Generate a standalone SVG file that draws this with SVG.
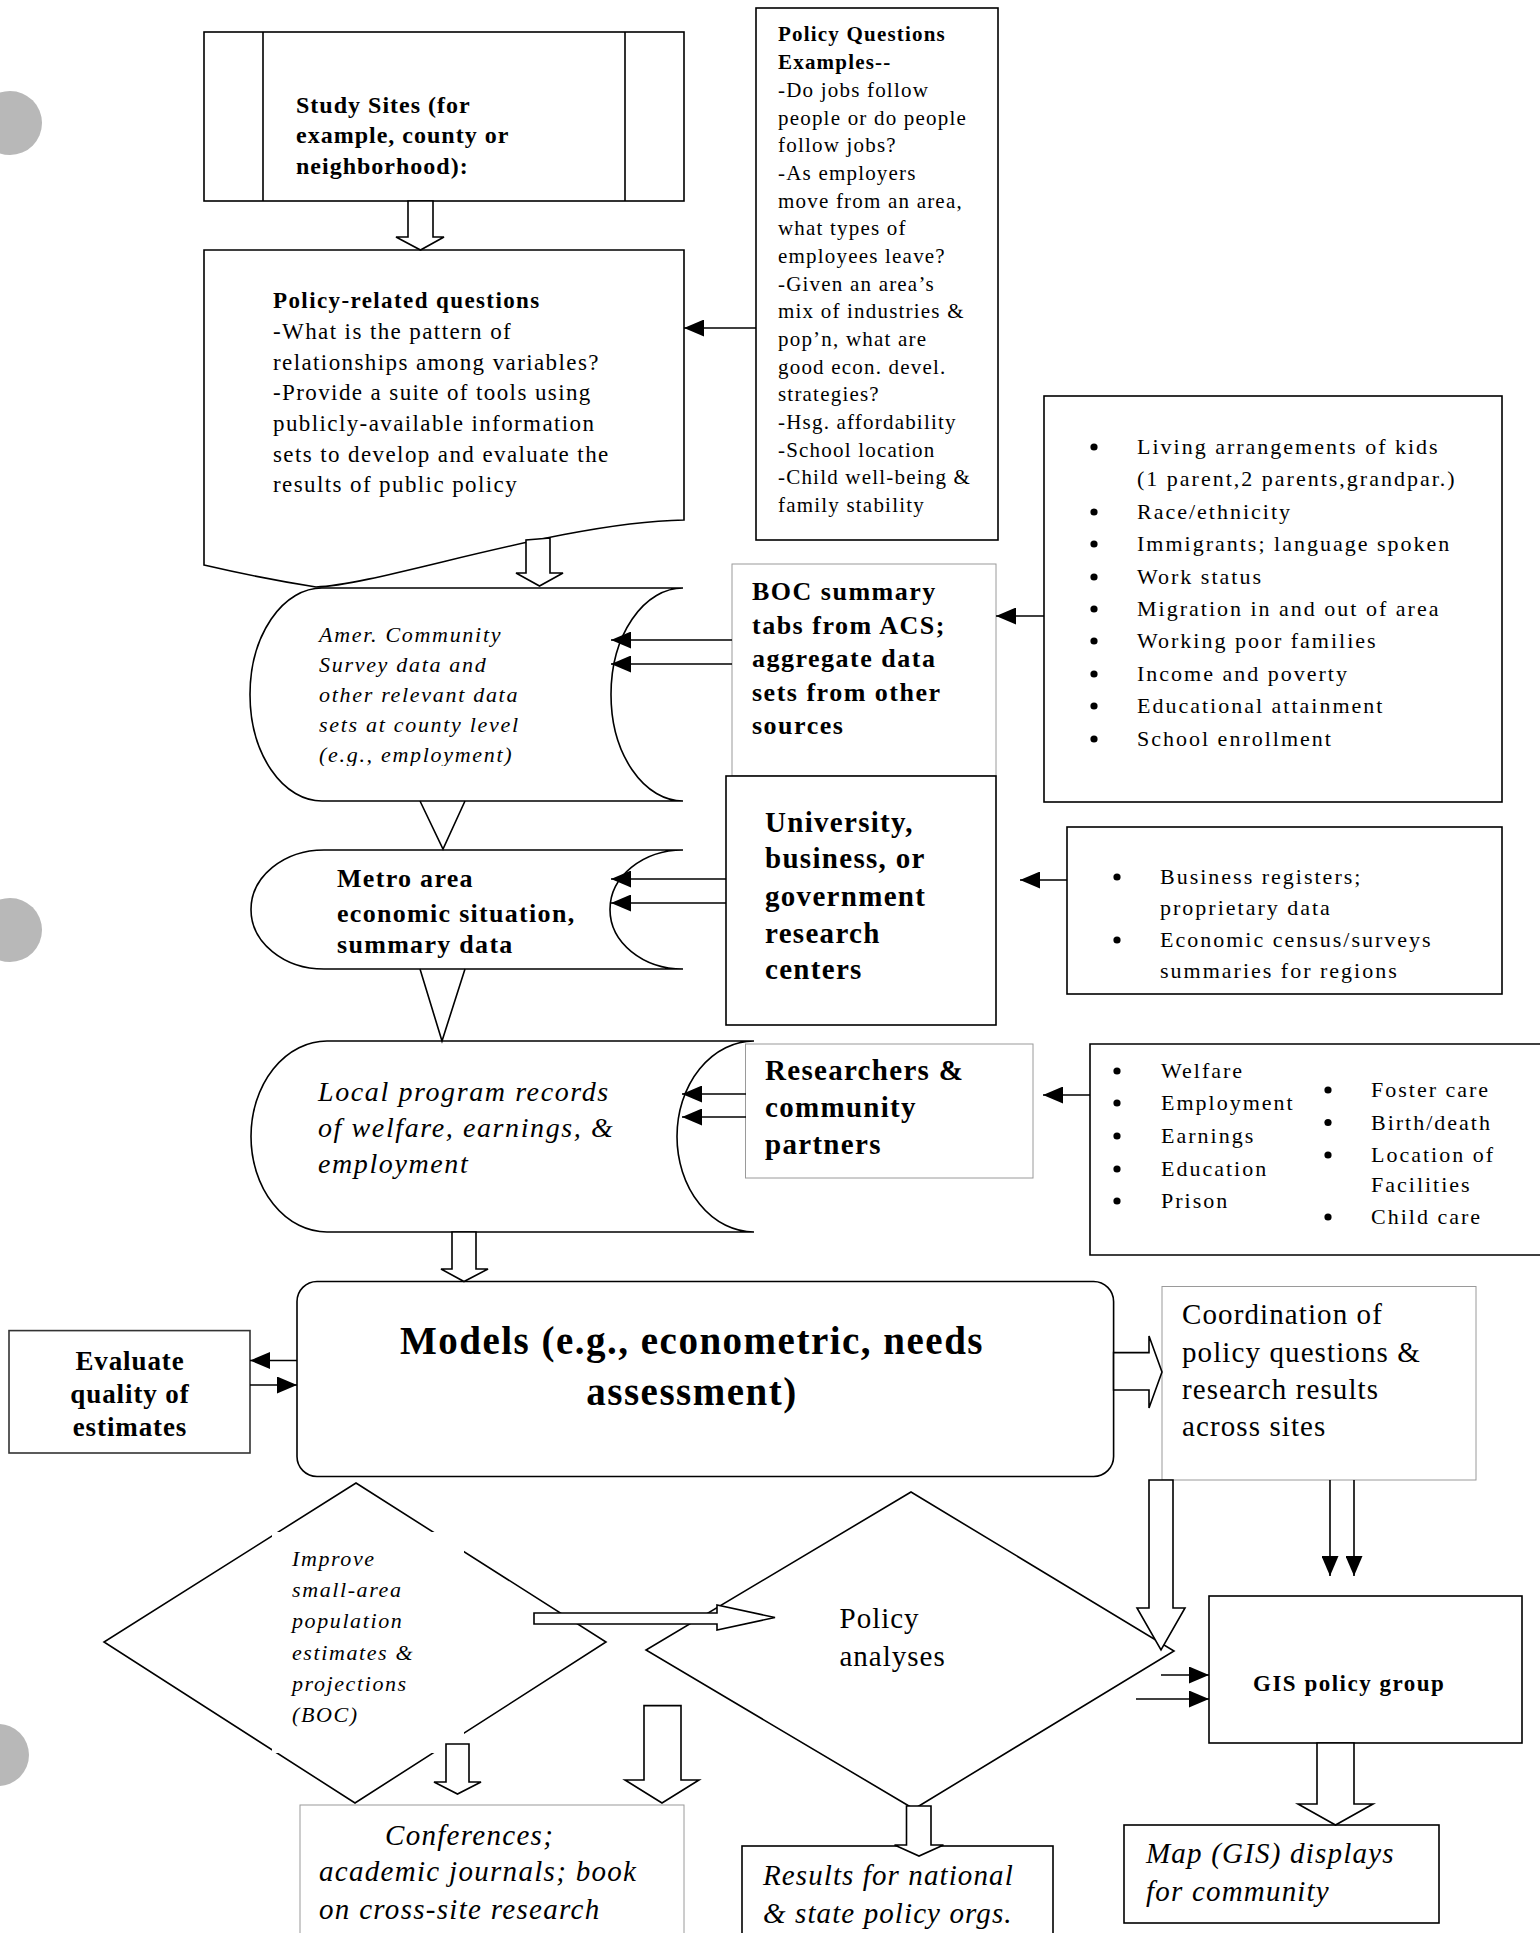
<svg xmlns="http://www.w3.org/2000/svg" width="1540" height="1933" viewBox="0 0 1540 1933">
<style>
.box{fill:#fff;stroke:#000;stroke-width:1.6}
.lbox{fill:#fff;stroke:#9a9a9a;stroke-width:1}
.conn{fill:none;stroke:#000;stroke-width:1.6}
.hol{fill:#fff;stroke:#000;stroke-width:1.6}
.hole{fill:#b8b8b8}
.bul{fill:#000}
text{font-family:"Liberation Serif","Times New Roman",serif;fill:#000}
.t24b{font-size:24px;font-weight:bold;letter-spacing:1px}
.t23{font-size:23px;letter-spacing:1.4px}
.t23b{font-size:23px;font-weight:bold;letter-spacing:1.4px}
.t21{font-size:21px;letter-spacing:1.2px}
.t21b{font-size:21px;font-weight:bold;letter-spacing:1.2px}
.lst{font-size:22px;letter-spacing:2px}
.t26b{font-size:26px;font-weight:bold;letter-spacing:1.5px}
.t29b{font-size:29px;font-weight:bold;letter-spacing:1.3px}
.t22i{font-size:22px;font-style:italic;letter-spacing:1.7px}
.t28i{font-size:28px;font-style:italic;letter-spacing:1.6px}
.t29{font-size:29px;letter-spacing:1.1px}
.t29i{font-size:29px;font-style:italic;letter-spacing:1.2px}
.t39b{font-size:39px;font-weight:bold;letter-spacing:1.5px}
</style>
<defs>
<marker id="ah" markerUnits="userSpaceOnUse" markerWidth="20" markerHeight="17" refX="20" refY="8.5" orient="auto"><path d="M0,0L20,8.5L0,17z" fill="#000"/></marker>
<clipPath id="acsclip"><rect x="240" y="588" width="380" height="178"/></clipPath>
</defs>
<rect width="1540" height="1933" fill="#fff"/>
<g id="punch-holes">
<circle class="hole" cx="10" cy="123" r="32"/>
<circle class="hole" cx="10" cy="930" r="32"/>
<circle class="hole" cx="-2" cy="1755" r="31"/>
</g>
<g id="study-sites">
<rect class="box" x="204" y="32" width="480" height="169"/>
<path class="conn" d="M263,32V201M625,32V201"/>
<text class="t24b"><tspan x="296" y="113">Study Sites (for</tspan><tspan x="296" y="143">example, county or</tspan><tspan x="296" y="174">neighborhood):</tspan></text>
</g>
<g id="policy-questions-examples">
<rect class="box" x="756" y="8" width="242" height="532"/>
<text class="t21b"><tspan x="778" y="41">Policy Questions</tspan><tspan x="778" y="68.5">Examples--</tspan></text>
<text class="t21"><tspan x="778" y="97">-Do jobs follow</tspan><tspan x="778" y="124.7">people or do people</tspan><tspan x="778" y="152.3">follow jobs?</tspan><tspan x="778" y="180">-As employers</tspan><tspan x="778" y="207.7">move from an area,</tspan><tspan x="778" y="235.3">what types of</tspan><tspan x="778" y="263">employees leave?</tspan><tspan x="778" y="290.7">-Given an area’s</tspan><tspan x="778" y="318.3">mix of industries &amp;</tspan><tspan x="778" y="346">pop’n, what are</tspan><tspan x="778" y="373.7">good econ. devel.</tspan><tspan x="778" y="401.3">strategies?</tspan><tspan x="778" y="429">-Hsg. affordability</tspan><tspan x="778" y="456.7">-School location</tspan><tspan x="778" y="484.3">-Child well-being &amp;</tspan><tspan x="778" y="512">family stability</tspan></text>
</g>
<g id="policy-related">
<path class="box" d="M204,250H684V520C560,522 380,585 316,587Q260,578 204,565Z"/>
<text class="t23b" x="273" y="308">Policy-related questions</text>
<text class="t23"><tspan x="273" y="339">-What is the pattern of</tspan><tspan x="273" y="370">relationships among variables?</tspan><tspan x="273" y="400">-Provide a suite of tools using</tspan><tspan x="273" y="431">publicly-available information</tspan><tspan x="273" y="462">sets to develop and evaluate the</tspan><tspan x="273" y="492">results of public policy</tspan></text>
</g>
<g id="census-list">
<rect class="box" x="1044" y="396" width="458" height="406"/>
<g class="bul"><circle cx="1094" cy="447" r="3.6"/><circle cx="1094" cy="512" r="3.6"/><circle cx="1094" cy="544" r="3.6"/><circle cx="1094" cy="577" r="3.6"/><circle cx="1094" cy="609" r="3.6"/><circle cx="1094" cy="641" r="3.6"/><circle cx="1094" cy="674" r="3.6"/><circle cx="1094" cy="706" r="3.6"/><circle cx="1094" cy="739" r="3.6"/></g>
<text class="lst"><tspan x="1137" y="454">Living arrangements of kids</tspan><tspan x="1137" y="486.4">(1 parent,2 parents,grandpar.)</tspan><tspan x="1137" y="518.8">Race/ethnicity</tspan><tspan x="1137" y="551.2">Immigrants; language spoken</tspan><tspan x="1137" y="583.6">Work status</tspan><tspan x="1137" y="616">Migration in and out of area</tspan><tspan x="1137" y="648.4">Working poor families</tspan><tspan x="1137" y="680.8">Income and poverty</tspan><tspan x="1137" y="713.2">Educational attainment</tspan><tspan x="1137" y="745.6">School enrollment</tspan></text>
</g>
<g id="boc-summary">
<rect class="lbox" x="732" y="564" width="264" height="212"/>
<text class="t26b"><tspan x="752" y="600">BOC summary</tspan><tspan x="752" y="634">tabs from ACS;</tspan><tspan x="752" y="667">aggregate data</tspan><tspan x="752" y="701">sets from other</tspan><tspan x="752" y="734">sources</tspan></text>
</g>
<g id="acs-data">
<path class="box" d="M322,588H683A72,106.5 0 0 0 683,801H322A72,106.5 0 0 1 322,588Z"/>
<text class="t22i" clip-path="url(#acsclip)"><tspan x="319" y="642">Amer. Community</tspan><tspan x="319" y="672">Survey data and</tspan><tspan x="319" y="702">other relevant data</tspan><tspan x="319" y="732">sets at county level</tspan><tspan x="319" y="762">(e.g., employment)</tspan></text>
</g>
<g id="university">
<rect class="box" x="726" y="776" width="270" height="249"/>
<text class="t29b"><tspan x="765" y="832">University,</tspan><tspan x="765" y="868">business, or</tspan><tspan x="765" y="906">government</tspan><tspan x="765" y="943">research</tspan><tspan x="765" y="979">centers</tspan></text>
</g>
<g id="business-list">
<rect class="box" x="1067" y="827" width="435" height="167"/>
<g class="bul"><circle cx="1117" cy="877" r="3.6"/><circle cx="1117" cy="940" r="3.6"/></g>
<text class="lst"><tspan x="1160" y="884">Business registers;</tspan><tspan x="1160" y="915">proprietary data</tspan><tspan x="1160" y="947">Economic census/surveys</tspan><tspan x="1160" y="978">summaries for regions</tspan></text>
</g>
<g id="metro">
<path class="box" d="M324,850H683A73,59.5 0 0 0 683,969H324A73,59.5 0 0 1 324,850Z"/>
<text class="t26b" style="letter-spacing:1.3px"><tspan x="337" y="887">Metro area</tspan><tspan x="337" y="921.7">economic situation,</tspan><tspan x="337" y="953">summary data</tspan></text>
</g>
<g id="local-records">
<path class="box" d="M327,1041H754A77,95.5 0 0 0 754,1232H327A76,95.5 0 0 1 327,1041Z"/>
<text class="t28i"><tspan x="318" y="1101">Local program records</tspan><tspan x="318" y="1137">of welfare, earnings, &amp;</tspan><tspan x="318" y="1173">employment</tspan></text>
</g>
<g id="researchers">
<rect class="lbox" x="745.5" y="1044" width="287.5" height="134"/>
<text class="t29b"><tspan x="765" y="1080">Researchers &amp;</tspan><tspan x="765" y="1117">community</tspan><tspan x="765" y="1154">partners</tspan></text>
</g>
<g id="local-list">
<path class="box" d="M1545,1044H1090V1255H1545"/>
<g class="bul"><circle cx="1117" cy="1071" r="3.6"/><circle cx="1117" cy="1103" r="3.6"/><circle cx="1117" cy="1136" r="3.6"/><circle cx="1117" cy="1169" r="3.6"/><circle cx="1117" cy="1201" r="3.6"/><circle cx="1328" cy="1090" r="3.6"/><circle cx="1328" cy="1122.5" r="3.6"/><circle cx="1328" cy="1155" r="3.6"/><circle cx="1328" cy="1217" r="3.6"/></g>
<text class="lst"><tspan x="1161" y="1078">Welfare</tspan><tspan x="1161" y="1110">Employment</tspan><tspan x="1161" y="1143">Earnings</tspan><tspan x="1161" y="1176">Education</tspan><tspan x="1161" y="1208">Prison</tspan><tspan x="1371" y="1097">Foster care</tspan><tspan x="1371" y="1129.5">Birth/death</tspan><tspan x="1371" y="1162">Location of</tspan><tspan x="1371" y="1192">Facilities</tspan><tspan x="1371" y="1224">Child care</tspan></text>
</g>
<g id="models">
<rect class="box" x="297" y="1281.5" width="816.6" height="195" rx="20"/>
<text class="t39b" text-anchor="middle"><tspan x="692" y="1354">Models (e.g., econometric, needs</tspan><tspan x="692" y="1405">assessment)</tspan></text>
</g>
<g id="evaluate">
<rect class="box" x="9" y="1330.6" width="241" height="122.4" style="stroke:#333"/>
<text class="t26b" text-anchor="middle" style="font-size:27px;letter-spacing:0.9px"><tspan x="130" y="1369.5">Evaluate</tspan><tspan x="130" y="1403">quality of</tspan><tspan x="130" y="1436">estimates</tspan></text>
</g>
<g id="coordination">
<rect class="lbox" x="1162" y="1286.5" width="314" height="193.5"/>
<text class="t29"><tspan x="1182" y="1324">Coordination of</tspan><tspan x="1182" y="1362">policy questions &amp;</tspan><tspan x="1182" y="1399">research results</tspan><tspan x="1182" y="1436">across sites</tspan></text>
</g>
<g id="improve">
<path class="box" d="M356,1483L606,1642L355,1803L104,1642Z"/>
<rect x="272" y="1532" width="192" height="221" fill="#fff"/>
<text class="t22i" style="letter-spacing:1.6px"><tspan x="292" y="1566">Improve</tspan><tspan x="292" y="1597">small-area</tspan><tspan x="292" y="1628">population</tspan><tspan x="292" y="1660">estimates &amp;</tspan><tspan x="292" y="1691">projections</tspan><tspan x="292" y="1722">(BOC)</tspan></text>
</g>
<g id="policy-analyses">
<path class="box" d="M911,1492L1174,1651L914,1809L646,1650Z"/>
<text class="t29" style="letter-spacing:1px"><tspan x="839.5" y="1628">Policy</tspan><tspan x="839.5" y="1666">analyses</tspan></text>
</g>
<g id="gis">
<rect class="box" x="1209" y="1596" width="313" height="147"/>
<text class="t23b" x="1253" y="1691" style="letter-spacing:1.5px">GIS policy group</text>
</g>
<g id="conferences">
<rect class="lbox" x="300" y="1805" width="384" height="140"/>
<text class="t29i" style="letter-spacing:1.3px"><tspan x="385" y="1845">Conferences;</tspan><tspan x="319" y="1880.6">academic journals; book</tspan><tspan x="319" y="1918.6">on cross-site research</tspan></text>
</g>
<g id="results">
<rect class="box" x="742" y="1846" width="311" height="100"/>
<text class="t29i" style="letter-spacing:1.1px"><tspan x="763" y="1885">Results for national</tspan><tspan x="763" y="1923">&amp; state policy orgs.</tspan></text>
</g>
<g id="map">
<rect class="box" x="1124" y="1825" width="315" height="98"/>
<text class="t29i"><tspan x="1146" y="1863">Map (GIS) displays</tspan><tspan x="1146" y="1901">for community</tspan></text>
</g>
<g id="connectors">
<path class="conn" marker-end="url(#ah)" d="M756,328H684"/>
<path class="conn" marker-end="url(#ah)" d="M1044,616H996"/>
<path class="conn" marker-end="url(#ah)" d="M732,640H611"/>
<path class="conn" marker-end="url(#ah)" d="M732,664H611"/>
<path class="conn" marker-end="url(#ah)" d="M1067,880H1020"/>
<path class="conn" marker-end="url(#ah)" d="M726,879H611"/>
<path class="conn" marker-end="url(#ah)" d="M726,903H611"/>
<path class="conn" marker-end="url(#ah)" d="M1090,1095H1043"/>
<path class="conn" marker-end="url(#ah)" d="M746,1094H682"/>
<path class="conn" marker-end="url(#ah)" d="M746,1117H682"/>
<path class="conn" marker-end="url(#ah)" d="M297,1360.5H250"/>
<path class="conn" marker-end="url(#ah)" d="M250,1385H297"/>
<path class="conn" marker-end="url(#ah)" d="M1330,1480V1576"/>
<path class="conn" marker-end="url(#ah)" d="M1354,1480V1576"/>
<path class="conn" marker-end="url(#ah)" d="M1161,1675H1209"/>
<path class="conn" marker-end="url(#ah)" d="M1136,1699H1209"/>
<path class="conn" d="M420,801L443,849L465,801"/>
<path class="conn" d="M420,969L442,1041L465,969"/>
<path class="hol" d="M408,201V237H396L420.5,250L444,237H433V201Z"/>
<path class="hol" d="M526,540V573H516L539.5,586L563,573H550V538Z"/>
<path class="hol" d="M452,1232V1269H441L464,1281.5L488,1269H476V1232Z"/>
<path class="hol" d="M1113.6,1352.6H1149V1336L1162,1372L1149,1408V1390H1113.6Z"/>
<path class="hol" d="M1149,1480V1608H1137L1161,1650L1185,1608H1173V1480Z"/>
<path class="hol" d="M534,1613H717V1605L775,1617.5L717,1630V1624H534Z"/>
<path class="hol" d="M446,1744V1782H434L457.5,1794L481,1782H469V1744Z"/>
<path class="hol" d="M644,1705.6V1780H625L662,1803L699,1780H681V1705.6Z"/>
<path class="hol" d="M906.5,1806V1845H894.5L919,1856L943.5,1845H931V1806Z"/>
<path class="hol" d="M1317,1743V1804H1298L1335.5,1825L1373,1804H1354V1743Z"/>
</g>
</svg>
